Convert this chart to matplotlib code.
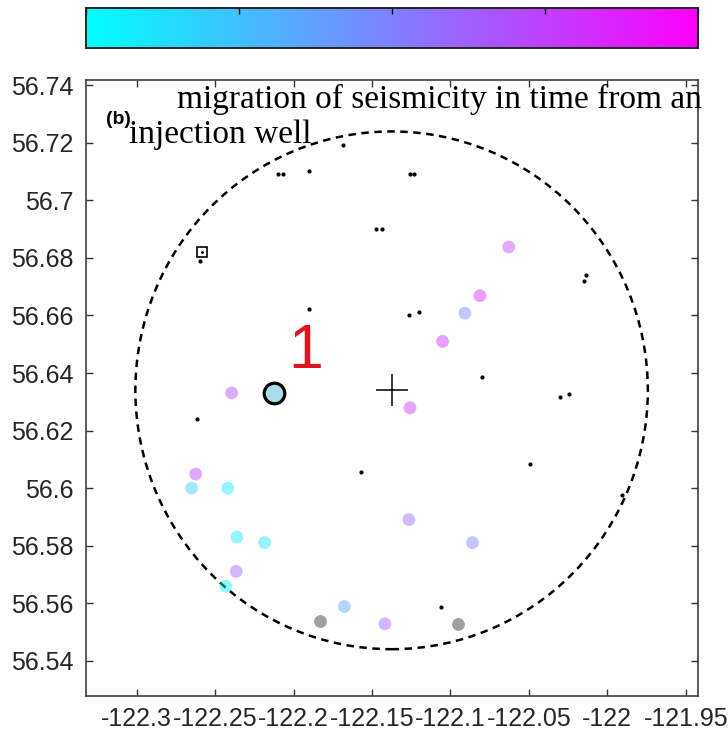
import matplotlib
matplotlib.use("Agg")
import matplotlib.pyplot as plt
import numpy as np
from matplotlib.patches import Ellipse

plt.rcParams['font.family'] = ['Liberation Sans', 'DejaVu Sans']

# relocated events, colour = normalised time since injection start
lon = [-122.2395, -122.1258, -122.1050, -122.0908, -122.0812, -122.0628,
       -122.2624, -122.2650, -122.2419, -122.2361, -122.2184, -122.2366,
       -122.2432, -122.1265, -122.0860, -122.1676, -122.1418]
lat = [56.6331, 56.6279, 56.6510, 56.6608, 56.6669, 56.6838,
       56.6049, 56.6000, 56.6000, 56.5830, 56.5811, 56.5711,
       56.5659, 56.5891, 56.5811, 56.5589, 56.5529]
t = [0.69, 0.78, 0.82, 0.46, 0.85, 0.72,
     0.75, 0.20, 0.08, 0.10, 0.12, 0.62,
     0.02, 0.58, 0.50, 0.38, 0.62]

# events with no time
grey_lon = [-122.1829, -122.0952]
grey_lat = [56.5538, 56.5529]

# largest event
main_lon = -122.2125
main_lat = 56.6331

# background catalogue
bg_lon = [-122.2597, -122.1904, -122.2618, -122.2098, -122.2066, -122.1904,
          -122.1475, -122.1439, -122.1258, -122.1233, -122.1263, -122.1201,
          -122.0802, -122.0303, -122.0245, -122.0150, -122.0133, -122.1571,
          -122.0491, -122.1063, -121.9908, -122.1685]
bg_lat = [56.6788, 56.6622, 56.6240, 56.7093, 56.7093, 56.7103,
          56.6899, 56.6899, 56.7093, 56.7093, 56.6601, 56.6612,
          56.6385, 56.6315, 56.6327, 56.6718, 56.6739, 56.6055,
          56.6083, 56.5587, 56.5975, 56.7192]

station_lon = -122.2586
station_lat = 56.6820

well_lon = -122.1375
well_lat = 56.6340
radius_km = 10

xticks = [-122.3, -122.25, -122.2, -122.15, -122.1, -122.05, -122.0, -121.95]
xticklabels = ['-122.3', '-122.25', '-122.2', '-122.15', '-122.1', '-122.05', '-122', '-121.95']
yticks = [56.54, 56.56, 56.58, 56.60, 56.62, 56.64, 56.66, 56.68, 56.70, 56.72, 56.74]
yticklabels = ['56.54', '56.56', '56.58', '56.6', '56.62', '56.64', '56.66', '56.68', '56.7', '56.72', '56.74']

cmap = plt.get_cmap('cool')
norm = plt.Normalize(0, 1)

fig = plt.figure(figsize=(7.28, 7.33), dpi=100)
ax = fig.add_axes([86/728, 1 - 696/733, 612/728, 616/733])

ax.scatter(lon, lat, c=t, cmap=cmap, norm=norm, s=85, alpha=0.45, linewidths=0, zorder=3)
ax.scatter(grey_lon, grey_lat, color='#a0a0a0', s=85, linewidths=0, zorder=3)
ax.scatter([main_lon], [main_lat], s=220, facecolor='#a9dde9', edgecolor='black',
           linewidths=2.3, zorder=5)
ax.plot(bg_lon, bg_lat, 'o', color='black', markersize=2.0, zorder=4)
ax.plot(station_lon, station_lat, 's', mfc='none', mec='black', markersize=7, mew=1.2, zorder=4)
ax.plot(station_lon, station_lat, '.', color='black', markersize=2, zorder=4)
ax.plot(well_lon, well_lat, '+', color='black', markersize=23, mew=1.1, zorder=4)

w = 2 * radius_km / (111.32 * np.cos(np.radians(well_lat)))
h = 2 * radius_km / 111.19
ax.add_patch(Ellipse((well_lon, well_lat), w, h, fill=False, ec='black',
                     lw=1.8, ls=(0, (3, 2.2)), zorder=2))

ax.text(-122.1921, 56.6417, '1', color='#e0141e', fontsize=45, ha='center', va='baseline')

ax.set_xlim(-122.3323, -121.9422)
ax.set_ylim(56.5278, 56.7418)
ax.set_xticks(xticks)
ax.set_xticklabels(xticklabels)
ax.set_yticks(yticks)
ax.set_yticklabels(yticklabels)
ax.tick_params(direction='in', top=True, right=True, length=5, width=1,
               labelsize=18, labelcolor='#262626', color='#333333')
ax.tick_params(axis='y', pad=9)
ax.tick_params(axis='x', pad=8)
for s in ax.spines.values():
    s.set_color('#404040')
    s.set_linewidth(1.2)

cax = fig.add_axes([86/728, 1 - 48/733, 612/728, 40/733])
sm = plt.cm.ScalarMappable(norm=norm, cmap=cmap)
cb = fig.colorbar(sm, cax=cax, orientation='horizontal')
cb.set_ticks([0, 0.25, 0.5, 0.75, 1])
cax.xaxis.set_ticks_position('top')
cax.tick_params(direction='in', length=4, width=1, labeltop=False, labelbottom=False)
cb.outline.set_linewidth(1.4)
cb.outline.set_edgecolor('#222222')

fig.text(177/728, 1 - 108.3/733, 'migration of seismicity in time from an',
         family='Liberation Serif', fontsize=24, va='baseline', ha='left')
fig.text(129/728, 1 - 143.3/733, 'injection well',
         family='Liberation Serif', fontsize=24, va='baseline', ha='left')
fig.text(106/728, 1 - 119/733, '(b)', fontsize=14, fontweight='bold', va='center', ha='left')

fig.savefig('out.png', dpi=100)
